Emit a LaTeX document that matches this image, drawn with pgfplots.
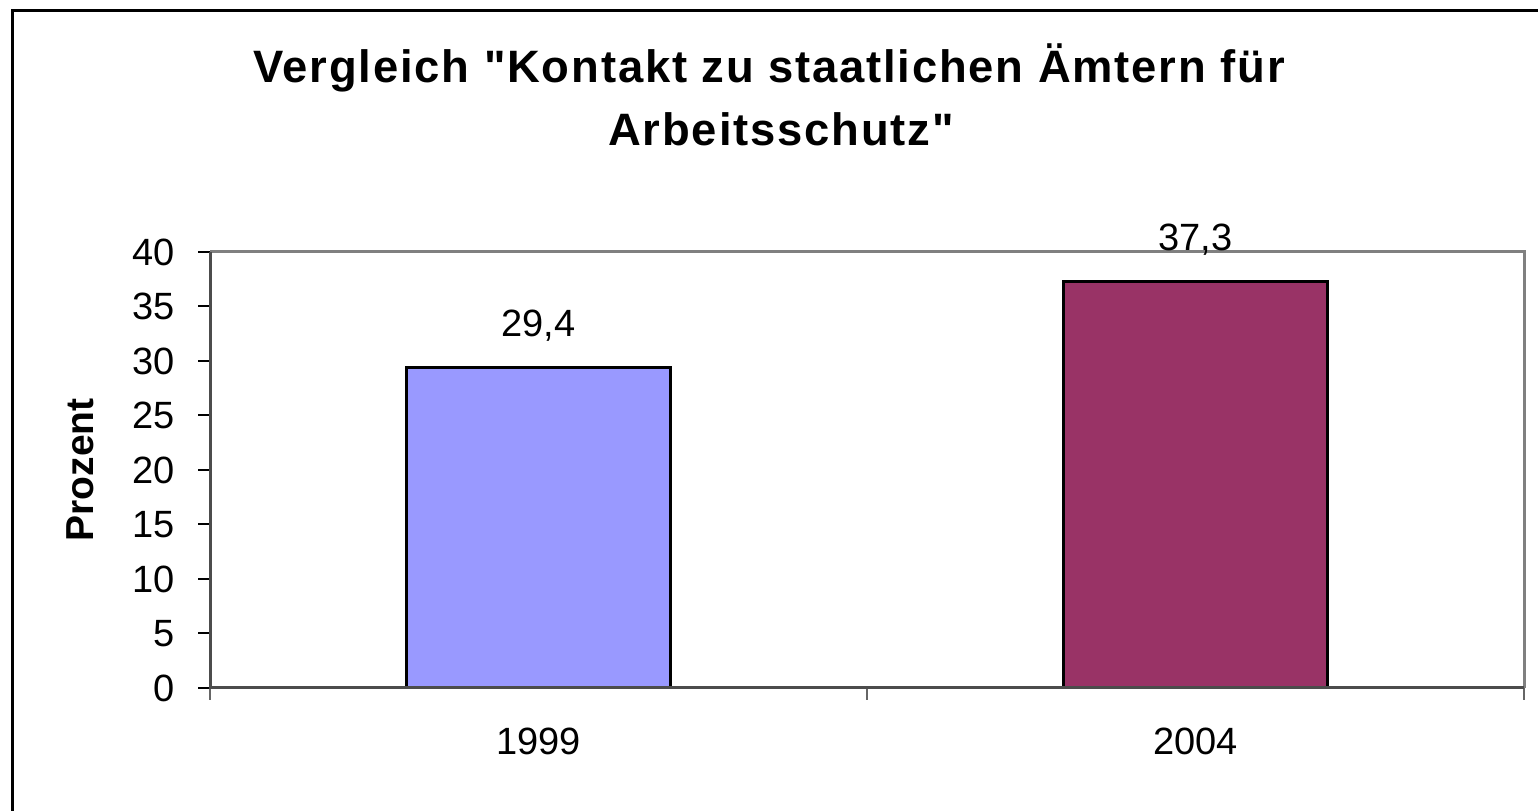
\documentclass[border=0pt]{standalone}
\usepackage{fontspec}
\setmainfont{Liberation Sans}
\newfontfamily\titlefont[LetterSpace=4]{Liberation Sans}
\usepackage{pgfplots}
\pgfplotsset{compat=1.18}
\definecolor{barA}{RGB}{153,153,255}
\definecolor{barB}{RGB}{153,51,102}
\definecolor{frameg}{RGB}{128,128,128}
\begin{document}
\begin{tikzpicture}[x=0.5bp,y=0.5bp]
\path[use as bounding box] (0,0) rectangle (1538,810);
\draw[line width=1.5bp] (12,-20) -- (12,799) -- (1560,799);
\node[font=\titlefont\bfseries\fontsize{22.7bp}{31bp}\selectfont, anchor=base, inner sep=0pt] at (769,727) {Vergleich "Kontakt zu staatlichen Ämtern für};
\node[font=\titlefont\bfseries\fontsize{22.7bp}{31bp}\selectfont, anchor=base, inner sep=0pt] at (781,664) {Arbeitsschutz"};
\begin{axis}[
  at={(105bp,61bp)}, anchor=south west,
  scale only axis, width=657bp, height=218bp,
  clip=false,
  ymin=0, ymax=40, ytick={0,5,...,40},
  xmin=-0.5, xmax=1.5,
  xtick={-0.5,0.5,1.5}, xticklabels={},
  extra x ticks={0,1}, extra x tick labels={1999,2004},
  extra x tick style={major tick length=0pt, tick style={draw=none},
    xticklabel style={inner sep=0pt, anchor=north, yshift=-20bp}},
  xtick pos=bottom, ytick pos=left,
  tick align=outside, major tick length=6bp,
  tick style={line width=1bp, black},
  xtick style={draw=black!60},
  axis line style={draw=none},
  ticklabel style={font=\fontsize{19bp}{22bp}\selectfont},
  yticklabel style={inner sep=0pt, anchor=east, xshift=-11.5bp},
  /pgf/number format/assume math mode=true,
  /pgf/number format/use comma,
  /pgf/number format/fixed,
  /pgf/number format/precision=1,
  every axis y label/.style={at={(axis description cs:-0.089,0.5)}, rotate=90, anchor=base,
    font=\bfseries\fontsize{19.5bp}{22bp}\selectfont},
  ylabel={Prozent},
  nodes near coords,
  every node near coord/.append style={anchor=base, yshift=15.5bp, inner sep=0pt,
    font=\fontsize{19bp}{22bp}\selectfont},
]
\addplot[ybar, bar width=0.403, bar shift=0pt, fill=barA, draw=black, line width=1.5bp] coordinates {(0,29.4)};
\addplot[ybar, bar width=0.403, bar shift=0pt, fill=barB, draw=black, line width=1.5bp] coordinates {(1,37.3)};
\draw[frameg, line width=1.5bp] (rel axis cs:0,1) -- (rel axis cs:1,1) -- (rel axis cs:1,0);
\draw[black!70, line width=1.5bp] (rel axis cs:0,1) -- (rel axis cs:0,0) -- (rel axis cs:1,0);
\end{axis}
\end{tikzpicture}
\end{document}
